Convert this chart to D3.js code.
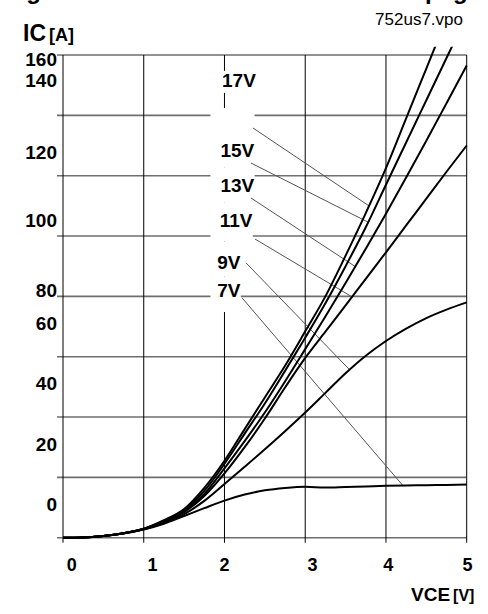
<!DOCTYPE html>
<html>
<head>
<meta charset="utf-8">
<script src="https://cdn.jsdelivr.net/npm/d3@7"></script>
<style>
  body { margin: 0; background: #fff; }
  text { font-family: "Liberation Sans", Arial, sans-serif; }
</style>
</head>
<body>
<svg id="chart" width="488" height="614"></svg>
<script>
'use strict';

// VCE sample points [V]
const vce = [0, 0.25, 0.5, 0.75, 1, 1.25, 1.5, 1.75, 2, 2.25, 2.5, 2.75, 3, 3.25, 3.5, 3.75, 4, 4.25, 4.5, 4.75, 5];

// IC [A] for each gate voltage
const ic17 = [0, 0.1, 0.6, 1.5, 3.0, 5.8, 9.5, 16.5, 25.5, 36, 46.5, 57, 68.4, 80, 93.5, 107.6, 122.5, 139, 155.5, 172, 188];
const ic15 = [0, 0.1, 0.6, 1.5, 3.0, 5.6, 9.2, 15.5, 24.5, 34.5, 44.5, 55.3, 66.3, 77.7, 90, 102.9, 117, 131, 145, 159, 173];
const ic13 = [0, 0.1, 0.6, 1.5, 2.9, 5.4, 8.8, 14.5, 23, 32, 41.5, 51.8, 62.5, 73.3, 84.4, 95.8, 107.4, 119.4, 131.6, 144, 156.5];
const ic11 = [0, 0.1, 0.6, 1.5, 2.9, 5.2, 8.5, 13.8, 21.3, 30, 39.5, 49.8, 59.6, 68.3, 77, 85.8, 94.6, 103.5, 112.4, 121.3, 130];
const ic9  = [0, 0.1, 0.6, 1.5, 2.8, 5.0, 7.8, 12.2, 17.8, 23.5, 29.3, 35.3, 41.5, 48, 54.5, 60.3, 65.2, 69.3, 72.8, 75.6, 78];
const ic7  = [0, 0.1, 0.6, 1.4, 2.7, 4.6, 7.2, 9.8, 12.3, 14.3, 15.7, 16.5, 16.9, 16.6, 16.8, 17.0, 17.2, 17.3, 17.4, 17.5, 17.6];

const vgeLabels = ['17V', '15V', '13V', '11V', '9V', '7V'];
const vgeCurves = [ic17, ic15, ic13, ic11, ic9, ic7];
// where each label is printed (V, A) and where its leader line starts / meets the curve
const labelAt = [[1.97, 151.7], [1.95, 128.5], [1.95, 116.9], [1.94, 105.3], [1.91, 91.4], [1.91, 82.1]];
const leaderFrom = [[2.353, 135.8], [2.328, 124.2], [2.328, 112.6], [2.378, 99.0], [2.266, 91.1], [2.217, 79.5]];
const leaderToV = [3.79, 3.78, 3.62, 3.58, 3.55, 4.21];

// grid and tick labels (the printed labels sit off the grid lines in the original)
const xGrid = [0, 1, 2, 3, 4, 5];
const yGrid = [0, 20, 40, 60, 80, 100, 120, 140, 160];
const xTickLabels = ['0', '1', '2', '3', '4', '5'];
const xTickLabelAt = [0.11, 1.11, 2.0, 3.09, 4.03, 5.01];
const yTickLabels = ['160', '140', '120', '100', '80', '60', '40', '20', '0'];
const yTickLabelAt = [158.6, 151.7, 127.8, 105.3, 82.1, 71.2, 51.3, 31.1, 11.2];

const x = d3.scaleLinear().domain([0, 5]).range([63, 466.7]);
const y = d3.scaleLinear().domain([0, 160]).range([537.7, 55]);

const svg = d3.select('#chart');

// caption line above the chart, cut by the top edge (only descenders show)
svg.append('g')
  .attr('font-size', 24).attr('font-weight', 'bold')
  .selectAll('text')
  .data([['Fig.', 5], ['p', 425], ['g', 453]])
  .join('text')
  .attr('x', d => d[1]).attr('y', -1)
  .text(d => d[0]);

svg.append('text')
  .attr('x', 463).attr('y', 25)
  .attr('text-anchor', 'end')
  .attr('font-size', 17)
  .text('752us7.vpo');

// grid
svg.append('g')
  .selectAll('line')
  .data(yGrid)
  .join('line')
  .attr('x1', x(0) - 6).attr('x2', x(5))
  .attr('y1', d => y(d)).attr('y2', d => y(d))
  .attr('stroke', '#6e6e6e')
  .attr('stroke-width', 1.6);

svg.append('g')
  .selectAll('line')
  .data(xGrid)
  .join('line')
  .attr('x1', d => x(d)).attr('x2', d => x(d))
  .attr('y1', y(160)).attr('y2', y(0) + 5)
  .attr('stroke', '#000')
  .attr('stroke-width', 1);

// tick labels
svg.append('g')
  .selectAll('text')
  .data(yTickLabels)
  .join('text')
  .attr('x', 57)
  .attr('y', (d, i) => y(yTickLabelAt[i]))
  .attr('dy', '0.36em')
  .attr('text-anchor', 'end')
  .attr('font-size', 19).attr('font-weight', 'bold')
  .text(d => d);

svg.append('g')
  .selectAll('text')
  .data(xTickLabels)
  .join('text')
  .attr('x', (d, i) => x(xTickLabelAt[i]))
  .attr('y', 571)
  .attr('text-anchor', 'middle')
  .attr('font-size', 18).attr('font-weight', 'bold')
  .text(d => d);

// axis titles
const yTitle = svg.append('text').attr('x', 23).attr('y', 41).attr('font-weight', 'bold');
yTitle.append('tspan').attr('font-size', 23).text('IC');
yTitle.append('tspan').attr('font-size', 18).attr('dx', 3).text('[A]');

const xTitle = svg.append('text').attr('x', 411).attr('y', 601).attr('font-weight', 'bold');
xTitle.append('tspan').attr('font-size', 19).text('VCE');
xTitle.append('tspan').attr('font-size', 16).attr('dx', 3).text('[V]');

// label boxes hiding the grid behind the gate-voltage labels
const labelG = svg.append('g');
const labels = labelG.selectAll('text')
  .data(vgeLabels)
  .join('text')
  .attr('x', (d, i) => x(labelAt[i][0]))
  .attr('y', (d, i) => y(labelAt[i][1]))
  .attr('dy', '0.36em')
  .attr('font-size', 19).attr('font-weight', 'bold')
  .text(d => d);

const boxes = [];
labels.each(function() {
  boxes.push(this.getBBox());
});
const colTop = y(labelAt[1][1]) - 42;
const colBottom = y(labelAt[5][1]) + 22;
boxes.forEach((b, i) => {
  let top, bottom, left, right;
  if (i === 0) {
    top = b.y + 1; bottom = b.y + b.height + 2;
    left = b.x - 8; right = b.x + b.width + 2;
  } else {
    const cy = b.y + b.height / 2;
    const prev = i === 1 ? null : boxes[i - 1];
    const next = i === boxes.length - 1 ? null : boxes[i + 1];
    top = prev ? (prev.y + prev.height / 2 + cy) / 2 : colTop;
    bottom = next ? (next.y + next.height / 2 + cy) / 2 : colBottom;
    left = x(labelAt[1][0]) - 10;
    right = b.x + b.width;
  }
  labelG.insert('rect', 'text')
    .attr('x', left).attr('y', top)
    .attr('width', right - left).attr('height', bottom - top)
    .attr('fill', '#fff');
});

// leader lines
svg.append('g')
  .selectAll('line')
  .data(vgeCurves)
  .join('line')
  .attr('x1', (d, i) => x(leaderFrom[i][0]))
  .attr('y1', (d, i) => y(leaderFrom[i][1]))
  .attr('x2', (d, i) => x(leaderToV[i]))
  .attr('y2', (d, i) => y(d3.scaleLinear().domain(vce).range(d)(leaderToV[i])))
  .attr('stroke', '#555')
  .attr('stroke-width', 1);

// curves
svg.append('clipPath')
  .attr('id', 'plot-clip')
  .append('rect')
  .attr('x', x(0) - 8).attr('y', y(162.7))
  .attr('width', x(5) - x(0) + 14).attr('height', y(0) - y(162.7) + 6);

const line = d3.line()
  .x((d, i) => x(vce[i]))
  .y(d => y(d))
  .curve(d3.curveMonotoneX);

svg.append('g')
  .attr('clip-path', 'url(#plot-clip)')
  .selectAll('path')
  .data(vgeCurves)
  .join('path')
  .attr('d', line)
  .attr('fill', 'none')
  .attr('stroke', '#000')
  .attr('stroke-width', 2);
</script>
</body>
</html>
